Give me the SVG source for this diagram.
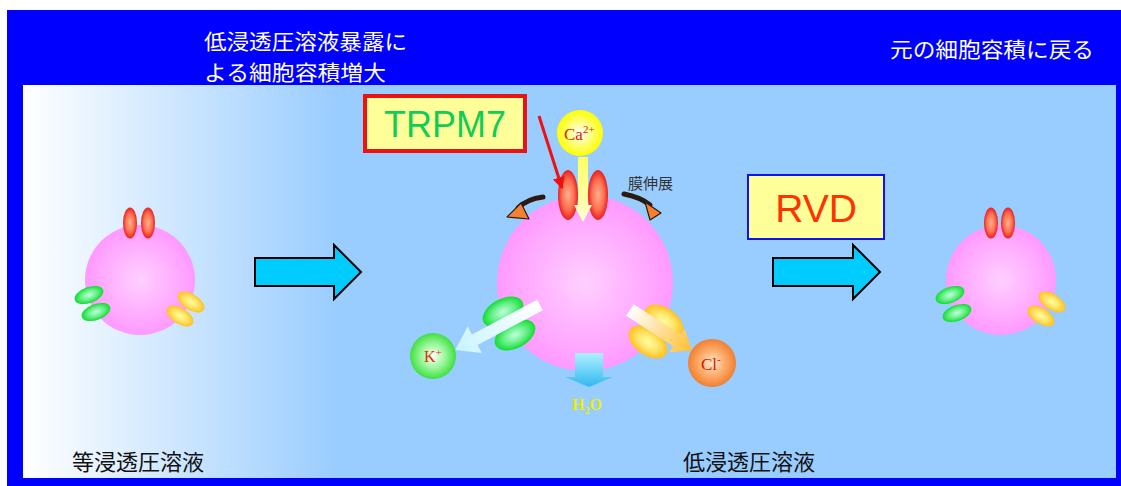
<svg xmlns="http://www.w3.org/2000/svg" width="1121" height="486" viewBox="0 0 1121 486">
  <defs>
    <style>
      .jp { font-family: "Noto Sans CJK JP", "Noto Sans", sans-serif; }
      .title { fill: #ffffff; font-size: 21px; }
      .sol { fill: #111111; font-size: 22px; }
      .ion { font-family: "Liberation Serif", serif; }
      .blockarrow { fill: #00ccff; stroke: #000000; stroke-width: 2; stroke-linejoin: miter; }
      .bend { fill: none; stroke: #2a1a10; stroke-width: 5; stroke-linecap: round; }
      .bendhead { fill: #f58030; stroke: #2a1a10; stroke-width: 1.2; stroke-linejoin: round; }
    </style>
    <linearGradient id="bg" x1="23" y1="0" x2="1116" y2="0" gradientUnits="userSpaceOnUse">
      <stop offset="0" stop-color="#ffffff"/>
      <stop offset="0.29" stop-color="#99ccff"/>
      <stop offset="1" stop-color="#99ccff"/>
    </linearGradient>
    <radialGradient id="cell" cx="0.5" cy="0.5" r="0.5">
      <stop offset="0" stop-color="#ffd0ff"/>
      <stop offset="1" stop-color="#ff99ff"/>
    </radialGradient>
    <radialGradient id="red" cx="0.5" cy="0.5" r="0.5">
      <stop offset="0" stop-color="#ffb090"/>
      <stop offset="0.6" stop-color="#ff7050"/>
      <stop offset="1" stop-color="#e82020"/>
    </radialGradient>
    <radialGradient id="green" cx="0.5" cy="0.5" r="0.5">
      <stop offset="0" stop-color="#c0ffe0"/>
      <stop offset="0.6" stop-color="#60ee80"/>
      <stop offset="1" stop-color="#10dd30"/>
    </radialGradient>
    <radialGradient id="yellow" cx="0.5" cy="0.5" r="0.5">
      <stop offset="0" stop-color="#ffffa0"/>
      <stop offset="0.6" stop-color="#ffe060"/>
      <stop offset="1" stop-color="#ffc020"/>
    </radialGradient>
    <radialGradient id="caBall" cx="0.5" cy="0.5" r="0.5">
      <stop offset="0" stop-color="#ffffff"/>
      <stop offset="0.5" stop-color="#ffff80"/>
      <stop offset="1" stop-color="#ffff00"/>
    </radialGradient>
    <radialGradient id="kBall" cx="0.5" cy="0.5" r="0.5">
      <stop offset="0" stop-color="#ffffff"/>
      <stop offset="0.5" stop-color="#a0f8a0"/>
      <stop offset="1" stop-color="#40e040"/>
    </radialGradient>
    <radialGradient id="clBall" cx="0.5" cy="0.5" r="0.5">
      <stop offset="0" stop-color="#ffe8d0"/>
      <stop offset="0.5" stop-color="#ffb070"/>
      <stop offset="1" stop-color="#f08030"/>
    </radialGradient>
    <linearGradient id="kFlow" x1="0" y1="0" x2="1" y2="0">
      <stop offset="0" stop-color="#ffffff"/>
      <stop offset="1" stop-color="#c8f4ff"/>
    </linearGradient>
    <linearGradient id="clFlow" x1="0" y1="0" x2="1" y2="0">
      <stop offset="0" stop-color="#ffffff"/>
      <stop offset="1" stop-color="#ffc030"/>
    </linearGradient>
    <linearGradient id="caFlow" x1="0" y1="0" x2="0" y2="1">
      <stop offset="0" stop-color="#ffff60"/>
      <stop offset="1" stop-color="#ffffd0"/>
    </linearGradient>
    <linearGradient id="waterFlow" x1="0" y1="0" x2="0" y2="1">
      <stop offset="0" stop-color="#b0f0ff"/>
      <stop offset="1" stop-color="#30b8f0"/>
    </linearGradient>
    <marker id="redHead" viewBox="0 0 10 10" refX="9" refY="5" markerWidth="4" markerHeight="4" orient="auto" markerUnits="strokeWidth">
      <path d="M0,0 L10,5 L0,10 z" fill="#ee1111"/>
    </marker>
  </defs>

  <!-- frame and solution background -->
  <rect x="7" y="10" width="1114" height="476" fill="#0000ff"/>
  <rect x="23" y="85" width="1093" height="393" fill="url(#bg)"/>

  <!-- header captions -->
  <g id="caption-swelling" class="jp title">
    <text x="204" y="49" textLength="203" lengthAdjust="spacingAndGlyphs">低浸透圧溶液暴露に</text>
    <text x="204" y="80" textLength="182" lengthAdjust="spacingAndGlyphs">よる細胞容積増大</text>
  </g>
  <g id="caption-recovery" class="jp title">
    <text x="890" y="57" textLength="204" lengthAdjust="spacingAndGlyphs">元の細胞容積に戻る</text>
  </g>

  <!-- solution labels -->
  <g id="label-iso" class="jp sol"><text x="72" y="470">等浸透圧溶液</text></g>
  <g id="label-hypo" class="jp sol"><text x="683" y="470">低浸透圧溶液</text></g>

  <!-- resting cell -->
  <g id="cell-rest">
    <circle cx="140" cy="280" r="55" fill="url(#cell)"/>
    <ellipse cx="130" cy="223" rx="7" ry="15.5" fill="url(#red)"/>
    <ellipse cx="148" cy="223" rx="7" ry="15.5" fill="url(#red)"/>
    <ellipse cx="89" cy="295" rx="15" ry="8" fill="url(#green)" transform="rotate(-20 89 295)"/>
    <ellipse cx="96" cy="312" rx="15" ry="8" fill="url(#green)" transform="rotate(-20 96 312)"/>
    <ellipse cx="191" cy="302" rx="15" ry="8" fill="url(#yellow)" transform="rotate(32 191 302)"/>
    <ellipse cx="180" cy="316" rx="15" ry="8" fill="url(#yellow)" transform="rotate(32 180 316)"/>
  </g>

  <!-- swollen cell -->
  <g id="cell-swollen">
    <circle cx="585" cy="283" r="88" fill="url(#cell)"/>
    <ellipse cx="568" cy="195" rx="10" ry="25" fill="url(#red)"/>
    <ellipse cx="598" cy="195" rx="10" ry="25" fill="url(#red)"/>
    <ellipse cx="503" cy="312" rx="22" ry="13" fill="url(#green)" transform="rotate(-28 503 312)"/>
    <ellipse cx="515" cy="335" rx="22" ry="13" fill="url(#green)" transform="rotate(-28 515 335)"/>
    <ellipse cx="664" cy="321" rx="22" ry="13" fill="url(#yellow)" transform="rotate(35 664 321)"/>
    <ellipse cx="648" cy="342" rx="22" ry="13" fill="url(#yellow)" transform="rotate(35 648 342)"/>
  </g>

  <!-- recovered cell -->
  <g id="cell-recovered">
    <circle cx="1001" cy="280" r="55" fill="url(#cell)"/>
    <ellipse cx="991" cy="223" rx="7" ry="15.5" fill="url(#red)"/>
    <ellipse cx="1008" cy="223" rx="7" ry="15.5" fill="url(#red)"/>
    <ellipse cx="950" cy="295" rx="15" ry="8" fill="url(#green)" transform="rotate(-20 950 295)"/>
    <ellipse cx="957" cy="313" rx="15" ry="8" fill="url(#green)" transform="rotate(-20 957 313)"/>
    <ellipse cx="1052" cy="302" rx="15" ry="8" fill="url(#yellow)" transform="rotate(32 1052 302)"/>
    <ellipse cx="1041" cy="316" rx="15" ry="8" fill="url(#yellow)" transform="rotate(32 1041 316)"/>
  </g>

  <!-- ions -->
  <g id="ion-ca">
    <circle cx="580" cy="133" r="23" fill="url(#caBall)"/>
    <text class="ion" x="564" y="140" font-size="17" fill="#dd2200">Ca<tspan font-size="11" dy="-7">2+</tspan></text>
  </g>
  <g id="ion-k">
    <circle cx="433" cy="356" r="23" fill="url(#kBall)"/>
    <text class="ion" x="424" y="362" font-size="16" fill="#dd3300">K<tspan font-size="11" dy="-6">+</tspan></text>
  </g>
  <g id="ion-cl">
    <circle cx="712" cy="363" r="24" fill="url(#clBall)"/>
    <text class="ion" x="701" y="370" font-size="17" fill="#cc2200">Cl<tspan font-size="11" dy="-7">-</tspan></text>
  </g>
  <g id="label-water">
    <text class="ion" x="572" y="410" font-size="16" font-weight="bold" fill="#eeee00">H<tspan font-size="10" dy="4">2</tspan><tspan dy="-4">O</tspan></text>
  </g>

  <!-- callout boxes -->
  <g id="box-trpm7">
    <rect x="365" y="96" width="160" height="55" fill="#ffff99" stroke="#ee1111" stroke-width="4"/>
    <text x="445" y="137" text-anchor="middle" font-family="Liberation Sans, Arial, sans-serif" font-size="36" fill="#11cc55">TRPM7</text>
  </g>
  <g id="box-rvd">
    <rect x="748" y="175" width="136" height="64" fill="#ffff99" stroke="#1111ee" stroke-width="2"/>
    <text x="816" y="222" text-anchor="middle" font-family="Liberation Sans, Arial, sans-serif" font-size="39" fill="#ff3300">RVD</text>
  </g>
  <g id="label-stretch">
    <text class="jp" x="628" y="189" font-size="15" fill="#333333">膜伸展</text>
  </g>

  <!-- connectors -->
  <g id="connectors">
    <!-- step arrows -->
    <path class="blockarrow" d="M255,258 L334,258 L334,245 L361,272 L334,299 L334,286 L255,286 Z"/>
    <path class="blockarrow" d="M773,258 L853,258 L853,245 L880,272 L853,299 L853,286 L773,286 Z"/>

    <!-- TRPM7 pointer -->
    <line x1="539" y1="116" x2="562" y2="188" stroke="#ee1111" stroke-width="3" marker-end="url(#redHead)"/>

    <!-- Ca2+ influx -->
    <path d="M578,157 L588,157 L588,205 L592,205 L583,222 L574,205 L578,205 Z" fill="url(#caFlow)"/>

    <!-- membrane stretch -->
    <path class="bend" d="M543,197 Q527,199 518,208"/>
    <path class="bendhead" d="M507,217 L521,203 L529,219 Z"/>
    <path class="bend" d="M624,194 Q640,197 650,205"/>
    <path class="bendhead" d="M661,213 L645,202 L650,220 Z"/>

    <!-- K+ efflux -->
    <path d="M0,-6 L74,-6 L74,-15 L96,0 L74,15 L74,6 L0,6 Z" fill="url(#kFlow)" transform="translate(540,305) rotate(152)"/>
    <!-- Cl- efflux -->
    <path d="M0,-7 L56,-7 L56,-14 L74,0 L56,14 L56,7 L0,7 Z" fill="url(#clFlow)" transform="translate(630,310) rotate(33)"/>
    <!-- water efflux -->
    <path d="M575,353 L603,353 L603,377 L613,377 L589,387 L565,377 L575,377 Z" fill="url(#waterFlow)"/>
  </g>
</svg>
